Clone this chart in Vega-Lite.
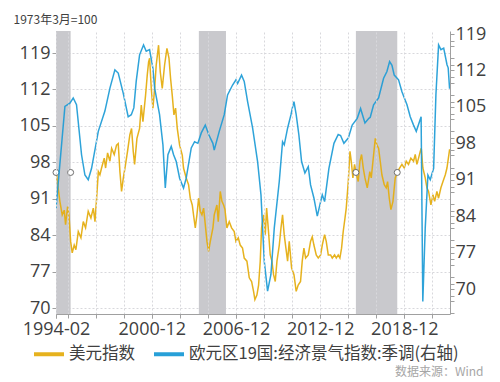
{
  "$schema": "https://vega.github.io/schema/vega-lite/v6.json",
  "width": 394,
  "height": 283,
  "autosize": {"type": "none"},
  "padding": {"left": 56, "top": 31, "right": 50, "bottom": 68},
  "background": "white",
  "config": {
    "view": {"stroke": null},
    "axis": {"labelFont": "Open Sans", "labelFontSize": 18, "labelColor": "#404040", "domainColor": "#a0a0a0", "tickColor": "#a0a0a0", "labelFlush": false}
  },
  "datasets": {
    "bands": [
      {"start": "1994-02-01", "end": "1995-02-17"},
      {"start": "2004-04-08", "end": "2006-03-15"},
      {"start": "2015-06-18", "end": "2018-05-30"}
    ],
    "marks": [
      {"d": "1994-02-01", "v": 96.05},
      {"d": "1995-02-17", "v": 96.05},
      {"d": "2015-06-18", "v": 96.05},
      {"d": "2018-05-30", "v": 96.05}
    ],
    "dxy": [
      {"d": "1994-02-01", "v": 96.0}, {"d": "1994-02-17", "v": 95.6}, {"d": "1994-03-30", "v": 93.0}, {"d": "1994-05-13", "v": 90.5},
      {"d": "1994-07-13", "v": 87.9}, {"d": "1994-09-04", "v": 88.8}, {"d": "1994-10-08", "v": 86.0}, {"d": "1994-11-30", "v": 89.5},
      {"d": "1995-01-04", "v": 87.9}, {"d": "1995-02-17", "v": 82.8}, {"d": "1995-03-30", "v": 80.6}, {"d": "1995-05-21", "v": 82.1},
      {"d": "1995-07-04", "v": 81.2}, {"d": "1995-09-04", "v": 84.7}, {"d": "1995-11-12", "v": 83.5}, {"d": "1996-01-12", "v": 86.6},
      {"d": "1996-03-12", "v": 85.4}, {"d": "1996-05-20", "v": 88.6}, {"d": "1996-07-29", "v": 87.3}, {"d": "1996-09-29", "v": 89.2},
      {"d": "1996-11-12", "v": 86.6}, {"d": "1996-12-24", "v": 91.1}, {"d": "1997-02-07", "v": 96.2}, {"d": "1997-03-20", "v": 95.6},
      {"d": "1997-05-02", "v": 96.9}, {"d": "1997-07-11", "v": 98.8}, {"d": "1997-08-15", "v": 96.9}, {"d": "1997-10-06", "v": 99.8},
      {"d": "1997-12-06", "v": 98.2}, {"d": "1998-01-19", "v": 100.7}, {"d": "1998-03-28", "v": 99.5}, {"d": "1998-05-27", "v": 101.3},
      {"d": "1998-07-10", "v": 101.6}, {"d": "1998-08-23", "v": 96.2}, {"d": "1998-10-05", "v": 92.4}, {"d": "1998-11-18", "v": 94.9},
      {"d": "1999-01-01", "v": 96.9}, {"d": "1999-03-09", "v": 100.1}, {"d": "1999-05-09", "v": 103.3}, {"d": "1999-06-22", "v": 104.5},
      {"d": "1999-08-05", "v": 100.1}, {"d": "1999-09-09", "v": 97.6}, {"d": "1999-11-09", "v": 102.6}, {"d": "2000-01-17", "v": 104.5},
      {"d": "2000-03-01", "v": 109.0}, {"d": "2000-04-13", "v": 105.8}, {"d": "2000-06-21", "v": 110.9}, {"d": "2000-08-04", "v": 114.8},
      {"d": "2000-09-08", "v": 117.3}, {"d": "2000-10-04", "v": 118.0}, {"d": "2000-11-16", "v": 112.2}, {"d": "2000-12-29", "v": 108.4},
      {"d": "2001-02-12", "v": 112.2}, {"d": "2001-03-25", "v": 116.7}, {"d": "2001-05-25", "v": 120.5}, {"d": "2001-07-08", "v": 115.4},
      {"d": "2001-08-29", "v": 112.2}, {"d": "2001-10-29", "v": 116.7}, {"d": "2001-12-29", "v": 119.9}, {"d": "2002-02-20", "v": 118.0},
      {"d": "2002-04-03", "v": 114.1}, {"d": "2002-05-16", "v": 110.9}, {"d": "2002-06-29", "v": 107.1}, {"d": "2002-08-11", "v": 108.4},
      {"d": "2002-09-24", "v": 104.5}, {"d": "2002-11-24", "v": 101.3}, {"d": "2003-02-01", "v": 99.4}, {"d": "2003-03-06", "v": 96.9},
      {"d": "2003-05-15", "v": 95.0}, {"d": "2003-07-15", "v": 93.7}, {"d": "2003-08-28", "v": 91.1}, {"d": "2003-10-19", "v": 89.8},
      {"d": "2003-12-02", "v": 87.3}, {"d": "2004-01-06", "v": 85.4}, {"d": "2004-02-18", "v": 87.9}, {"d": "2004-04-01", "v": 91.1},
      {"d": "2004-05-14", "v": 88.6}, {"d": "2004-06-27", "v": 87.9}, {"d": "2004-08-10", "v": 89.2}, {"d": "2004-10-01", "v": 85.4},
      {"d": "2004-11-05", "v": 82.8}, {"d": "2004-12-18", "v": 80.9}, {"d": "2005-01-31", "v": 82.8}, {"d": "2005-04-09", "v": 85.4},
      {"d": "2005-05-13", "v": 87.9}, {"d": "2005-07-22", "v": 89.8}, {"d": "2005-08-26", "v": 86.6}, {"d": "2005-10-17", "v": 92.4},
      {"d": "2005-11-30", "v": 90.5}, {"d": "2006-01-13", "v": 89.8}, {"d": "2006-02-17", "v": 88.9}, {"d": "2006-04-08", "v": 85.4},
      {"d": "2006-06-08", "v": 86.6}, {"d": "2006-08-08", "v": 85.4}, {"d": "2006-10-16", "v": 84.7}, {"d": "2006-11-29", "v": 82.8},
      {"d": "2007-01-29", "v": 83.5}, {"d": "2007-03-20", "v": 82.1}, {"d": "2007-05-20", "v": 81.5}, {"d": "2007-07-03", "v": 79.6},
      {"d": "2007-09-11", "v": 79.0}, {"d": "2007-11-11", "v": 75.8}, {"d": "2008-01-11", "v": 75.1}, {"d": "2008-03-02", "v": 73.2},
      {"d": "2008-04-06", "v": 71.6}, {"d": "2008-05-28", "v": 72.5}, {"d": "2008-07-11", "v": 74.4}, {"d": "2008-08-23", "v": 79.0},
      {"d": "2008-09-27", "v": 85.4}, {"d": "2008-11-19", "v": 87.9}, {"d": "2009-01-01", "v": 84.1}, {"d": "2009-02-05", "v": 89.2},
      {"d": "2009-03-19", "v": 85.4}, {"d": "2009-05-10", "v": 80.2}, {"d": "2009-06-23", "v": 79.0}, {"d": "2009-08-05", "v": 76.4},
      {"d": "2009-09-18", "v": 75.1}, {"d": "2009-11-01", "v": 79.0}, {"d": "2010-01-01", "v": 82.1}, {"d": "2010-02-14", "v": 85.4},
      {"d": "2010-03-27", "v": 87.9}, {"d": "2010-05-09", "v": 84.1}, {"d": "2010-06-22", "v": 81.5}, {"d": "2010-08-05", "v": 79.0},
      {"d": "2010-09-17", "v": 82.8}, {"d": "2010-11-17", "v": 77.7}, {"d": "2011-01-18", "v": 76.4}, {"d": "2011-03-17", "v": 73.2},
      {"d": "2011-05-08", "v": 74.4}, {"d": "2011-07-08", "v": 75.1}, {"d": "2011-08-21", "v": 79.0}, {"d": "2011-10-04", "v": 81.5},
      {"d": "2011-11-17", "v": 79.6}, {"d": "2012-01-25", "v": 80.2}, {"d": "2012-03-25", "v": 82.8}, {"d": "2012-05-08", "v": 83.7},
      {"d": "2012-06-20", "v": 82.1}, {"d": "2012-08-20", "v": 80.2}, {"d": "2012-10-11", "v": 79.6}, {"d": "2012-12-12", "v": 80.2},
      {"d": "2013-01-24", "v": 82.1}, {"d": "2013-03-25", "v": 84.1}, {"d": "2013-05-07", "v": 82.8}, {"d": "2013-06-29", "v": 80.2},
      {"d": "2013-08-29", "v": 80.2}, {"d": "2013-10-11", "v": 79.6}, {"d": "2013-12-11", "v": 80.2}, {"d": "2014-01-24", "v": 79.6},
      {"d": "2014-03-15", "v": 80.2}, {"d": "2014-04-28", "v": 79.6}, {"d": "2014-06-10", "v": 81.5}, {"d": "2014-07-23", "v": 84.7},
      {"d": "2014-09-06", "v": 87.2}, {"d": "2014-10-10", "v": 89.2}, {"d": "2014-12-02", "v": 94.3}, {"d": "2015-01-15", "v": 100.1},
      {"d": "2015-02-18", "v": 98.2}, {"d": "2015-04-01", "v": 95.0}, {"d": "2015-05-14", "v": 97.6}, {"d": "2015-07-05", "v": 95.6},
      {"d": "2015-08-18", "v": 94.3}, {"d": "2015-10-01", "v": 98.2}, {"d": "2015-11-13", "v": 99.5}, {"d": "2015-12-27", "v": 96.9},
      {"d": "2016-02-09", "v": 95.0}, {"d": "2016-04-09", "v": 93.1}, {"d": "2016-05-21", "v": 95.0}, {"d": "2016-06-15", "v": 96.2},
      {"d": "2016-07-22", "v": 95.0}, {"d": "2016-09-04", "v": 98.2}, {"d": "2016-11-04", "v": 102.6}, {"d": "2016-12-17", "v": 101.3},
      {"d": "2017-01-29", "v": 100.7}, {"d": "2017-03-13", "v": 98.2}, {"d": "2017-04-25", "v": 95.6}, {"d": "2017-06-25", "v": 93.7},
      {"d": "2017-08-16", "v": 93.1}, {"d": "2017-09-20", "v": 94.3}, {"d": "2017-11-03", "v": 91.1}, {"d": "2017-12-16", "v": 88.9},
      {"d": "2018-02-07", "v": 90.5}, {"d": "2018-04-07", "v": 95.0}, {"d": "2018-06-07", "v": 96.2}, {"d": "2018-07-29", "v": 96.9},
      {"d": "2018-09-28", "v": 97.6}, {"d": "2018-11-28", "v": 96.9}, {"d": "2019-01-19", "v": 98.2}, {"d": "2019-03-19", "v": 97.6},
      {"d": "2019-05-19", "v": 98.8}, {"d": "2019-07-28", "v": 98.2}, {"d": "2019-09-10", "v": 99.5}, {"d": "2019-10-23", "v": 97.6},
      {"d": "2019-12-06", "v": 98.8}, {"d": "2020-01-19", "v": 100.1}, {"d": "2020-02-14", "v": 100.7}, {"d": "2020-03-27", "v": 96.9},
      {"d": "2020-05-27", "v": 95.0}, {"d": "2020-07-10", "v": 93.1}, {"d": "2020-08-22", "v": 92.4}, {"d": "2020-10-22", "v": 89.8},
      {"d": "2020-12-14", "v": 91.8}, {"d": "2021-01-27", "v": 90.5}, {"d": "2021-03-27", "v": 92.4}, {"d": "2021-05-09", "v": 91.1},
      {"d": "2021-07-09", "v": 93.1}, {"d": "2021-09-01", "v": 94.3}, {"d": "2021-11-01", "v": 95.6}, {"d": "2021-12-14", "v": 96.9},
      {"d": "2022-02-21", "v": 100.5}
    ],
    "esi": [
      {"d": "1994-02-01", "v": 85.5}, {"d": "1994-09-21", "v": 105.1}, {"d": "1995-01-29", "v": 105.7}, {"d": "1995-04-25", "v": 106.7},
      {"d": "1995-07-20", "v": 105.4}, {"d": "1995-11-28", "v": 95.8}, {"d": "1996-02-24", "v": 91.9}, {"d": "1996-05-20", "v": 91.0},
      {"d": "1996-08-15", "v": 93.2}, {"d": "1997-02-06", "v": 100.3}, {"d": "1997-07-28", "v": 104.2}, {"d": "1997-12-06", "v": 108.6},
      {"d": "1998-04-14", "v": 112.1}, {"d": "1998-07-10", "v": 111.5}, {"d": "1998-11-18", "v": 107.6}, {"d": "1999-03-26", "v": 103.1},
      {"d": "1999-06-15", "v": 103.5}, {"d": "1999-08-20", "v": 104.8}, {"d": "1999-10-21", "v": 109.9}, {"d": "2000-01-17", "v": 115.0},
      {"d": "2000-04-29", "v": 116.9}, {"d": "2000-07-08", "v": 115.7}, {"d": "2000-10-03", "v": 116.0}, {"d": "2000-12-29", "v": 112.4},
      {"d": "2001-02-12", "v": 108.6}, {"d": "2001-06-20", "v": 103.5}, {"d": "2001-09-16", "v": 97.7}, {"d": "2001-11-16", "v": 89.4},
      {"d": "2002-01-24", "v": 95.8}, {"d": "2002-04-20", "v": 97.4}, {"d": "2002-06-20", "v": 95.8}, {"d": "2002-08-28", "v": 94.5},
      {"d": "2002-11-24", "v": 91.3}, {"d": "2003-03-06", "v": 89.4}, {"d": "2003-05-15", "v": 91.3}, {"d": "2003-09-23", "v": 97.1},
      {"d": "2003-12-19", "v": 98.3}, {"d": "2004-03-14", "v": 98.0}, {"d": "2004-06-10", "v": 100.0}, {"d": "2004-09-22", "v": 101.5},
      {"d": "2004-12-26", "v": 99.6}, {"d": "2005-04-08", "v": 98.0}, {"d": "2005-05-13", "v": 96.7}, {"d": "2005-09-21", "v": 100.3},
      {"d": "2006-01-29", "v": 103.5}, {"d": "2006-04-25", "v": 107.3}, {"d": "2006-09-03", "v": 109.2}, {"d": "2006-11-29", "v": 110.2},
      {"d": "2007-01-12", "v": 109.5}, {"d": "2007-04-24", "v": 111.1}, {"d": "2007-07-03", "v": 109.9}, {"d": "2007-09-29", "v": 106.0},
      {"d": "2008-02-07", "v": 100.9}, {"d": "2008-06-15", "v": 94.5}, {"d": "2008-09-11", "v": 88.1}, {"d": "2008-12-06", "v": 75.3},
      {"d": "2009-03-02", "v": 69.6}, {"d": "2009-05-28", "v": 72.8}, {"d": "2009-08-23", "v": 81.7}, {"d": "2010-01-01", "v": 90.7},
      {"d": "2010-03-27", "v": 98.3}, {"d": "2010-05-10", "v": 97.7}, {"d": "2010-08-05", "v": 100.9}, {"d": "2010-11-01", "v": 103.5},
      {"d": "2010-12-05", "v": 104.7}, {"d": "2011-01-18", "v": 106.0}, {"d": "2011-03-17", "v": 103.5}, {"d": "2011-05-26", "v": 99.6},
      {"d": "2011-08-04", "v": 94.5}, {"d": "2011-10-30", "v": 92.3}, {"d": "2012-01-25", "v": 93.5}, {"d": "2012-03-25", "v": 90.0},
      {"d": "2012-06-20", "v": 87.5}, {"d": "2012-09-16", "v": 84.0}, {"d": "2012-12-12", "v": 86.8}, {"d": "2013-01-24", "v": 88.1},
      {"d": "2013-03-25", "v": 86.8}, {"d": "2013-07-16", "v": 93.2}, {"d": "2013-11-24", "v": 98.0}, {"d": "2014-03-15", "v": 99.7},
      {"d": "2014-05-15", "v": 99.5}, {"d": "2014-08-10", "v": 98.0}, {"d": "2014-12-02", "v": 99.0}, {"d": "2015-03-14", "v": 101.5},
      {"d": "2015-07-23", "v": 102.8}, {"d": "2015-10-18", "v": 104.7}, {"d": "2016-02-09", "v": 101.9}, {"d": "2016-05-21", "v": 102.8},
      {"d": "2016-06-26", "v": 103.0}, {"d": "2016-09-21", "v": 105.4}, {"d": "2017-01-29", "v": 106.7}, {"d": "2017-06-08", "v": 110.5},
      {"d": "2017-09-03", "v": 111.8}, {"d": "2017-11-12", "v": 113.7}, {"d": "2018-01-12", "v": 113.0}, {"d": "2018-03-12", "v": 111.1},
      {"d": "2018-07-03", "v": 110.2}, {"d": "2018-09-29", "v": 107.9}, {"d": "2019-02-07", "v": 105.4}, {"d": "2019-05-03", "v": 103.1},
      {"d": "2019-07-28", "v": 101.5}, {"d": "2019-10-07", "v": 100.3}, {"d": "2020-02-10", "v": 103.1}, {"d": "2020-03-25", "v": 67.6},
      {"d": "2020-05-27", "v": 81.7}, {"d": "2020-08-05", "v": 91.9}, {"d": "2020-10-05", "v": 91.0}, {"d": "2021-01-01", "v": 93.2},
      {"d": "2021-03-01", "v": 107.3}, {"d": "2021-05-10", "v": 116.9}, {"d": "2021-07-10", "v": 116.0}, {"d": "2021-09-20", "v": 116.3},
      {"d": "2021-12-15", "v": 113.1}, {"d": "2022-01-15", "v": 112.5}, {"d": "2022-02-20", "v": 108.5}
    ]
  },
  "layer": [
    {
      "data": {"name": "bands"},
      "mark": {"type": "rect", "color": "#c9c9cd"},
      "encoding": {
        "x": {
          "field": "start", "type": "temporal",
          "scale": {"type": "utc", "domain": [{"year": 1994, "month": 2, "date": 1, "utc": true}, {"year": 2022, "month": 3, "date": 3, "utc": true}]},
          "axis": {
            "orient": "bottom",
            "values": [
              {"year": 1994, "month": 2, "date": 1, "utc": true},
              {"year": 1994, "month": 12, "date": 1, "utc": true},
              {"year": 1996, "month": 12, "date": 1, "utc": true},
              {"year": 1998, "month": 12, "date": 1, "utc": true},
              {"year": 2000, "month": 12, "date": 1, "utc": true},
              {"year": 2002, "month": 12, "date": 1, "utc": true},
              {"year": 2004, "month": 12, "date": 1, "utc": true},
              {"year": 2006, "month": 12, "date": 1, "utc": true},
              {"year": 2008, "month": 12, "date": 1, "utc": true},
              {"year": 2010, "month": 12, "date": 1, "utc": true},
              {"year": 2012, "month": 12, "date": 1, "utc": true},
              {"year": 2014, "month": 12, "date": 1, "utc": true},
              {"year": 2016, "month": 12, "date": 1, "utc": true},
              {"year": 2018, "month": 12, "date": 1, "utc": true},
              {"year": 2020, "month": 12, "date": 1, "utc": true}
            ],
            "labels": false,
            "domain": true,
            "domainColor": "#a0a0a0",
            "tickSize": 4,
            "grid": true,
            "gridColor": "#d8d8dc",
            "gridDash": [2, 2],
            "zindex": 1,
            "title": "数据来源：Wind",
            "titleFont": "Noto Sans CJK SC",
            "titleFontSize": 12,
            "titleFontWeight": "normal",
            "titleColor": "#a6a6a6",
            "titleX": 427,
            "titleY": 57,
            "titleAlign": "right",
            "titleBaseline": "middle"
          }
        },
        "x2": {"field": "end"}
      }
    },
    {
      "layer": [
        {
          "data": {"name": "dxy"},
          "mark": {"type": "line", "strokeWidth": 1.5, "opacity": 0.95, "clip": true},
          "encoding": {
            "x": {
              "field": "d", "type": "temporal", "scale": {"type": "utc"},
              "axis": {
                "orient": "bottom",
                "values": [
                  {"year": 1994, "month": 2, "date": 1, "utc": true},
                  {"year": 2000, "month": 12, "date": 1, "utc": true},
                  {"year": 2006, "month": 12, "date": 1, "utc": true},
                  {"year": 2012, "month": 12, "date": 1, "utc": true},
                  {"year": 2018, "month": 12, "date": 1, "utc": true}
                ],
                "format": "%Y-%m",
                "labelOverlap": false,
                "labelPadding": 2,
                "tickSize": 4,
                "domain": false,
                "grid": false,
                "title": null
              }
            },
            "y": {
              "field": "v", "type": "quantitative",
              "scale": {"domain": [68.85, 123.23], "nice": false, "zero": false},
              "axis": {
                "values": [70, 77, 84, 91, 98, 105, 112, 119],
                "format": "d",
                "labelOverlap": false,
                "labelPadding": 2,
                "tickSize": 4,
                "grid": true,
                "gridColor": "#d8d8dc",
                "gridDash": [2, 2],
                "title": "1973年3月=100",
                "titleFont": "Noto Sans CJK SC",
                "titleFontSize": 12,
                "titleFontWeight": "normal",
                "titleColor": "#404040",
                "titleAngle": 0,
                "titleX": -43,
                "titleY": -12,
                "titleAlign": "left",
                "titleBaseline": "middle"
              }
            },
            "color": {
              "datum": "美元指数", "type": "nominal",
              "scale": {"domain": ["美元指数", "欧元区19国:经济景气指数:季调(右轴)"], "range": ["#e5ae12", "#1c9bd6"]},
              "legend": {
                "orient": "none", "legendX": -24, "legendY": 306, "direction": "horizontal",
                "title": null, "padding": 0,
                "symbolType": "stroke", "symbolStrokeWidth": 4, "symbolSize": 900,
                "labelFont": "Noto Sans CJK SC", "labelFontSize": 16.5, "labelColor": "#404040",
                "labelOffset": 3, "columnPadding": 11, "labelLimit": 0
              }
            }
          }
        },
        {
          "data": {"name": "marks"},
          "mark": {"type": "point", "shape": "circle", "filled": true, "fill": "white", "stroke": "#6d6d6d", "strokeWidth": 1, "size": 36, "opacity": 1},
          "encoding": {
            "x": {"field": "d", "type": "temporal", "scale": {"type": "utc"}},
            "y": {
              "field": "v", "type": "quantitative",
              "axis": {
                "values": [72.333, 74.667, 79.333, 81.667, 86.333, 88.667, 93.333, 95.667, 100.333, 102.667, 107.333, 109.667, 114.333, 116.667, 121.333],
                "labels": false, "domain": false, "grid": false, "tickSize": 4, "title": null
              }
            }
          }
        }
      ],
      "resolve": {"axis": {"y": "independent"}}
    },
    {
      "layer": [
        {
          "data": {"name": "esi"},
          "mark": {"type": "line", "strokeWidth": 1.5, "opacity": 0.92, "clip": true},
          "encoding": {
            "x": {"field": "d", "type": "temporal", "scale": {"type": "utc"}, "axis": null},
            "y": {
              "field": "v", "type": "quantitative",
              "scale": {"domain": [65.2, 119.58], "nice": false, "zero": false},
              "axis": {
                "orient": "right",
                "values": [70, 77, 84, 91, 98, 105, 112, 119],
                "format": "d",
                "labelOverlap": false,
                "labelPadding": 1,
                "tickSize": 4,
                "grid": false,
                "title": null
              }
            },
            "color": {"datum": "欧元区19国:经济景气指数:季调(右轴)", "type": "nominal"}
          }
        },
        {
          "data": {"name": "marks"},
          "mark": {"type": "point", "opacity": 0},
          "encoding": {
            "x": {"field": "d", "type": "temporal", "scale": {"type": "utc"}, "axis": null},
            "y": {
              "field": "v", "type": "quantitative",
              "axis": {
                "orient": "right",
                "values": [65.333, 67.667, 72.333, 74.667, 79.333, 81.667, 86.333, 88.667, 93.333, 95.667, 100.333, 102.667, 107.333, 109.667, 114.333, 116.667],
                "labels": false, "domain": false, "grid": false, "tickSize": 4, "title": null
              }
            }
          }
        }
      ],
      "resolve": {"axis": {"y": "independent"}}
    }
  ],
  "resolve": {"scale": {"y": "independent"}, "axis": {"x": "independent"}}
}
